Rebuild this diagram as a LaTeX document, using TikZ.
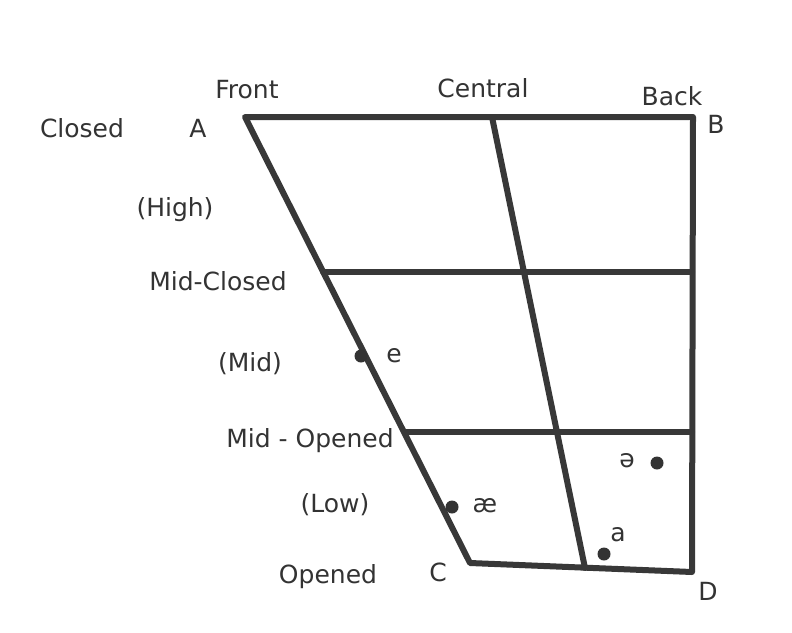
\documentclass[tikz,border=0pt]{standalone}
\usepackage{fontspec}
\setmainfont{DejaVu Sans}
\begin{document}
\begin{tikzpicture}[x=1pt,y=-1pt,
  ink/.style={draw=black!78,line width=6pt,line cap=round,line join=round},
  lbl/.style={text=black!80,font=\fontsize{25}{29}\selectfont,inner sep=0pt},
  vdot/.style={circle,fill=black!80,minimum size=13pt,inner sep=0pt}]
\useasboundingbox[fill=white] (0,0) rectangle (792,632);
% corners
\coordinate (A) at (245,117);
\coordinate (B) at (693,117);
\coordinate (C) at (470,563);
\coordinate (D) at (692,572);
\coordinate (ct) at (492,117);
\coordinate (cb) at (585,568);
\coordinate (mcl) at (323,272);
\coordinate (mcr) at (692,272);
\coordinate (mol) at (406,432);
\coordinate (mor) at (692,432);
% frame
\draw[ink] (A) -- (B) -- (D) -- (C) -- cycle;
\draw[ink] (ct) -- (cb);
\draw[ink] (mcl) -- (mcr);
\draw[ink] (mol) -- (mor);
% vowel dots
\node[vdot] (de) at (361,356) {};
\node[vdot] (dae) at (452,507) {};
\node[vdot] (dschwa) at (657,463) {};
\node[vdot] (da) at (604,554) {};
% labels
\node[lbl] (front) at (247,90) {Front};
\node[lbl] (central) at (483,88) {Central};
\node[lbl] (back) at (672,96) {Back};
\node[lbl] (lB) at (716,124) {B};
\node[lbl] (closed) at (82,128) {Closed};
\node[lbl] (lA) at (198,128) {A};
\node[lbl] (high) at (175,210) {(High)};
\node[lbl] (midc) at (218,281) {Mid-Closed};
\node[lbl] (mid) at (250,364) {(Mid)};
\node[lbl] (ve) at (394,356) {e};
\node[lbl] (mido) at (310,441) {Mid - Opened};
\node[lbl] (low) at (335,505) {(Low)};
\node[lbl] (vae) at (485,506) {æ};
\node[lbl] (vschwa) at (627,461) {ə};
\node[lbl] (va) at (618,535) {a};
\node[lbl] (opened) at (328,577) {Opened};
\node[lbl] (lC) at (438,572) {C};
\node[lbl] (lD) at (708,591) {D};
\end{tikzpicture}
\end{document}
